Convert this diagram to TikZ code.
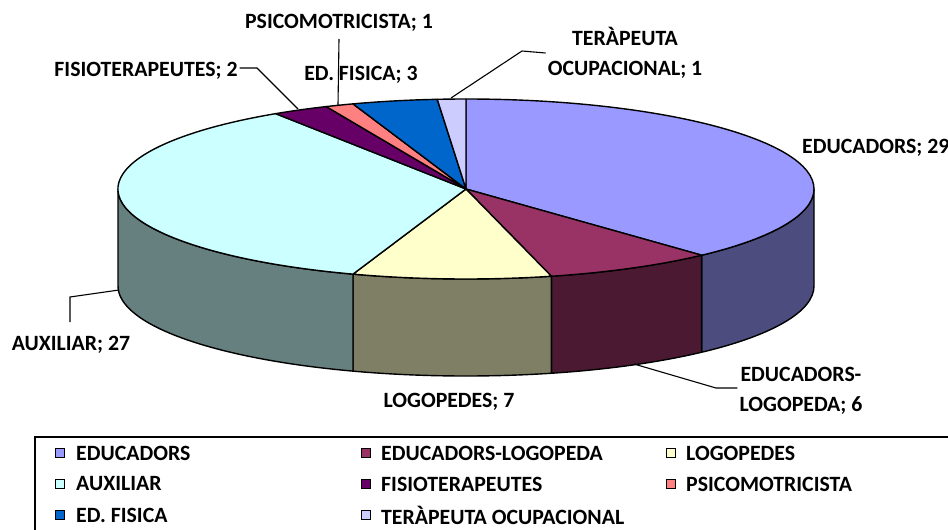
\documentclass[tikz,border=0pt]{standalone}
\usepackage{fontspec}
\setmainfont{Carlito}
\definecolor{educ}{HTML}{9999FF}
\definecolor{educS}{HTML}{4C4C7F}
\definecolor{edlog}{HTML}{993366}
\definecolor{edlogS}{HTML}{4C1933}
\definecolor{logo}{HTML}{FFFFCC}
\definecolor{logoS}{HTML}{7F7F66}
\definecolor{aux}{HTML}{CCFFFF}
\definecolor{auxS}{HTML}{667F7F}
\definecolor{fisio}{HTML}{660066}
\definecolor{psico}{HTML}{FF8080}
\definecolor{edfis}{HTML}{0066CC}
\definecolor{tera}{HTML}{CCCCFF}
\newcommand\topslice[3]{\path[edge, fill=#3] (0,0) -- (#1:348pt and 90pt) arc[start angle=#1, end angle=#2, x radius=348pt, y radius=90pt] -- cycle;}
\newcommand\sideslice[3]{\path[edge, fill=#3] (#1:348pt and 90pt) arc[start angle=#1, end angle=#2, x radius=348pt, y radius=90pt] -- ++(0,97) arc[start angle=#2, end angle=#1, x radius=348pt, y radius=90pt] -- cycle;}
\begin{document}
\begin{tikzpicture}[x=1pt,y=-1pt, font=\fontsize{21.8}{30.5}\selectfont\bfseries,
  edge/.style={draw=black, line width=1.4pt, line join=round},
  leader/.style={draw=black, line width=1.1pt},
  lbl/.style={inner sep=2pt, align=center},
  key/.style={draw=black, line width=0.9pt, minimum size=8.5pt, inner sep=0pt},
  keytext/.style={anchor=west, inner sep=0pt}]
\useasboundingbox (0,0) rectangle (948,530);
\fill[white] (0,0) rectangle (948,530);
\begin{scope}[shift={(466,189)}]
  \sideslice{0}{-47.368}{educS}
  \sideslice{-47.368}{-75.789}{edlogS}
  \sideslice{-75.789}{-108.947}{logoS}
  \sideslice{-108.947}{-180}{auxS}
  \topslice{90}{-47.368}{educ}
  \topslice{-47.368}{-75.789}{edlog}
  \topslice{-75.789}{-108.947}{logo}
  \topslice{-108.947}{-236.842}{aux}
  \topslice{-236.842}{-246.316}{fisio}
  \topslice{-246.316}{-251.053}{psico}
  \topslice{-251.053}{-265.263}{edfis}
  \topslice{-265.263}{-270}{tera}
\end{scope}
% labels
\node[lbl] (lpsico) at (339,23) {PSICOMOTRICISTA; 1};
\node[lbl] (lfisio) at (146,71) {FISIOTERAPEUTES; 2};
\node[lbl] (ledfis) at (361,75) {ED. FISICA; 3};
\node[lbl] (ltera) at (625,53) {TERÀPEUTA\\OCUPACIONAL; 1};
\node[lbl, anchor=west] (leduc) at (800,148) {EDUCADORS; 29};
\node[lbl] (ledlog) at (801,391) {EDUCADORS-\\LOGOPEDA; 6};
\node[lbl] (llogo) at (449,402) {LOGOPEDES; 7};
\node[lbl] (laux) at (71,345) {AUXILIAR; 27};
% leader points
\coordinate (pfisio) at (298,109);
\coordinate (bfisio) at (257,68);
\coordinate (ppsico) at (338,105);
\coordinate (apsico) at (339,39);
\coordinate (ptera) at (451,98);
\coordinate (btera) at (522,51);
\coordinate (pedlog) at (634,364);
\coordinate (bedlog) at (716,388);
\coordinate (paux) at (119,290);
\coordinate (baux) at (70,297);
\coordinate (aaux) at (70,322);
\draw[leader] (lfisio.east |- bfisio) -- (bfisio) -- (pfisio);
\draw[leader] (apsico) -- (ppsico);
\draw[leader] (ltera.west) -- (btera) -- (ptera);
\draw[leader] (ledlog.west |- bedlog) -- (bedlog) -- (pedlog);
\draw[leader] (aaux) -- (baux) -- (paux);
% legend
\draw[line width=1.5pt] (35,437) rectangle (970,560);
\node[key, fill=educ] (k1) at (60,453) {};
\node[keytext] (t1) at (76,453) {EDUCADORS};
\node[key, fill=edlog] (k2) at (366,453) {};
\node[keytext] (t2) at (381,453) {EDUCADORS-LOGOPEDA};
\node[key, fill=logo] (k3) at (671,453) {};
\node[keytext] (t3) at (686,453) {LOGOPEDES};
\node[key, fill=aux] (k4) at (60,484) {};
\node[keytext] (t4) at (76,484) {AUXILIAR};
\node[key, fill=fisio] (k5) at (366,484) {};
\node[keytext] (t5) at (381,484) {FISIOTERAPEUTES};
\node[key, fill=psico] (k6) at (671,484) {};
\node[keytext] (t6) at (686,484) {PSICOMOTRICISTA};
\node[key, fill=edfis] (k7) at (60,515) {};
\node[keytext] (t7) at (76,515) {ED. FISICA};
\node[key, fill=tera] (k8) at (366,515) {};
\node[keytext] (t8) at (381,515) {TERÀPEUTA OCUPACIONAL};
\end{tikzpicture}
\end{document}
